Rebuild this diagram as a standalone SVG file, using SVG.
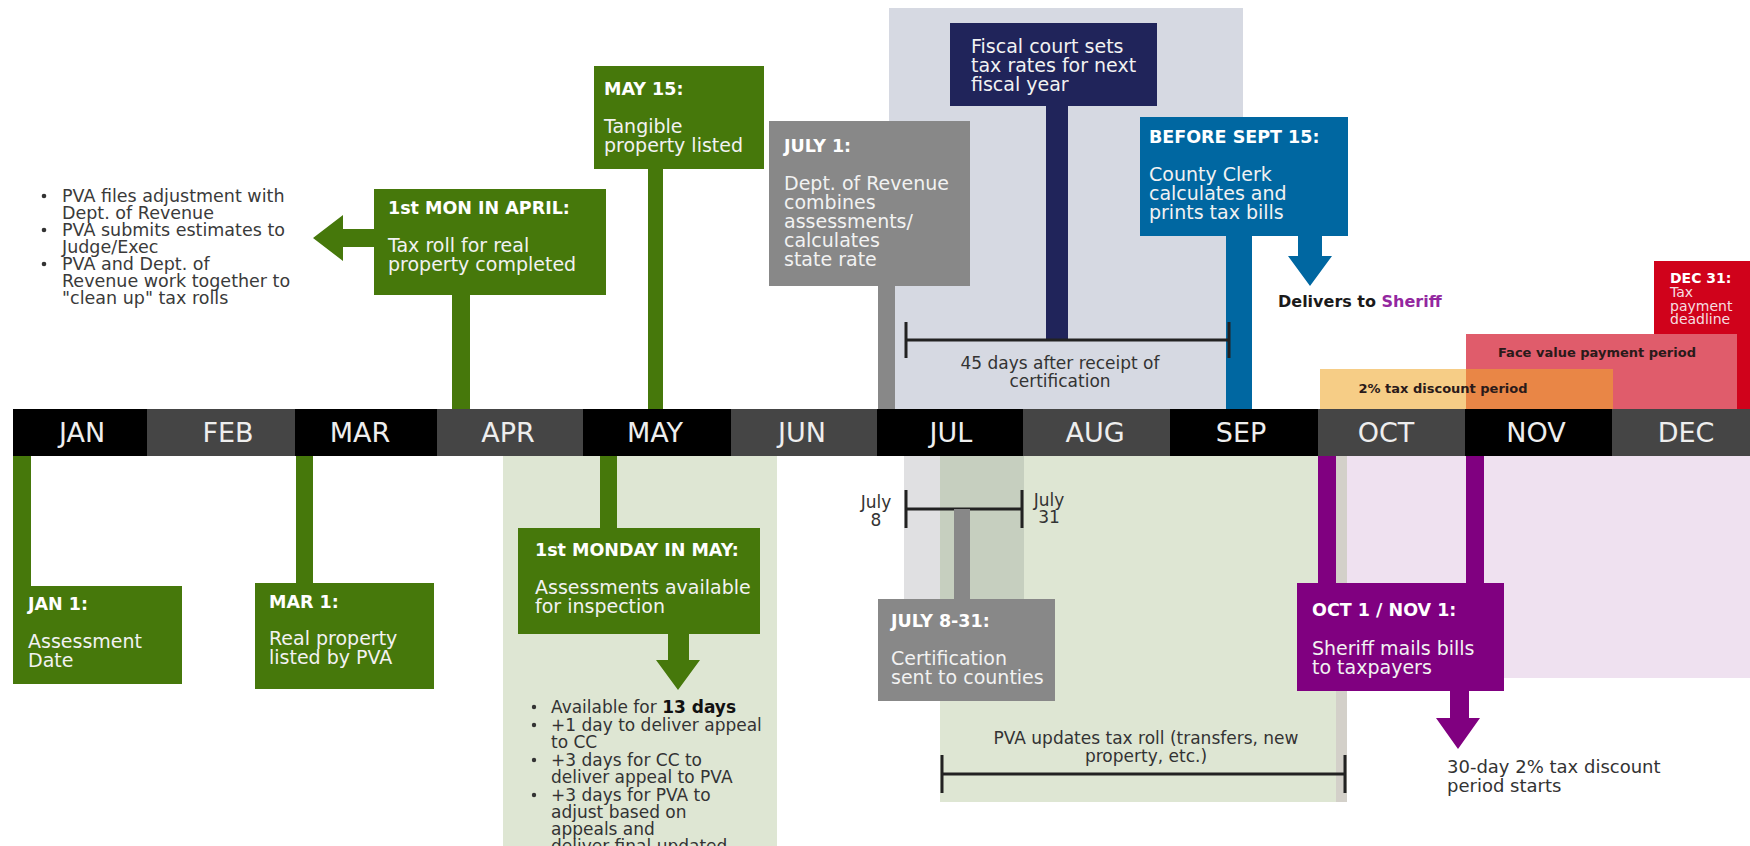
<svg xmlns="http://www.w3.org/2000/svg" width="1750" height="846" viewBox="0 0 1750 846">
<style>
text { font-family: "DejaVu Sans", "Liberation Sans", sans-serif; }
.t { font-weight: bold; font-size: 17.5px; fill: #ffffff; }
.b { font-size: 19px; fill: #f2f2f2; }
.note { font-size: 17.5px; fill: #3a3a3a; }
.note2 { font-size: 17px; fill: #333333; }
.mon { font-size: 27px; fill: #eeeeee; text-anchor: middle; }
.lbl { font-size: 17px; fill: #333333; text-anchor: middle; }
.band { font-weight: bold; font-size: 13px; fill: #2a1a1a; text-anchor: middle; }
.grn { fill: #46780b; }
.gry { fill: #888888; }
.nav { fill: #20245a; }
.blu { fill: #0067a1; }
.pur { fill: #800080; }
.red { fill: #d0021b; }
.brk { stroke: #222222; stroke-width: 3; fill: none; }
.dot { fill: #333333; }
.cb { fill: #000000; }
.cg { fill: #454545; }
</style>

<g id="backgrounds">
  <rect x="889" y="8" width="354" height="402" fill="#d6d9e2"/>
  <rect x="503" y="455" width="274" height="391" fill="#dee6d3"/>
  <rect x="1336" y="455" width="414" height="223" fill="#efe1f0"/>
  <rect x="940" y="455" width="407" height="347" fill="#dee6d3"/>
  <rect x="1336" y="455" width="11" height="347" fill="#d3d0c9"/>
  <rect x="904" y="455" width="120" height="145" fill="#e0e0e2"/>
  <rect x="940" y="455" width="84" height="145" fill="#c6cfbf"/>
</g>

<g id="dec31">
  <rect x="1654" y="261" width="96" height="149" class="red"/>
  <text x="1670" y="283" font-weight="bold" font-size="14" fill="#ffffff">DEC 31:</text>
  <text x="1670" y="297" font-size="14" fill="#f6dde0">Tax</text>
  <text x="1670" y="311" font-size="14" fill="#f6dde0">payment</text>
  <text x="1670" y="324" font-size="14" fill="#f6dde0">deadline</text>
</g>

<g id="face-value-period">
  <rect x="1466" y="334" width="271" height="76" fill="#e05c6b"/>
  <text x="1597" y="357" class="band">Face value payment period</text>
</g>

<g id="discount-period">
  <rect x="1320" y="369" width="293" height="41" fill="#efa72a" fill-opacity="0.57"/>
  <text x="1443" y="393" class="band">2% tax discount period</text>
</g>

<g id="connectors">
  <rect x="452" y="295" width="18" height="115" class="grn"/>
  <polygon points="374,229 343,229 343,215 313,238 343,261 343,247 374,247" class="grn"/>
  <rect x="648" y="169" width="15" height="241" class="grn"/>
  <rect x="878" y="286" width="17" height="124" class="gry"/>
  <rect x="1046" y="106" width="22" height="234" class="nav"/>
  <rect x="1226" y="236" width="26" height="174" class="blu"/>
  <polygon points="1298,236 1322,236 1322,256 1332,256 1310,286 1288,256 1298,256" class="blu"/>
  <path d="M906 340 H1229 M906 322 V358 M1229 322 V358" class="brk"/>
  <rect x="13" y="455" width="18" height="131" class="grn"/>
  <rect x="296" y="455" width="17" height="128" class="grn"/>
  <rect x="600" y="455" width="17" height="73" class="grn"/>
  <polygon points="668,634 689,634 689,660 700,660 678,690 656,660 668,660" class="grn"/>
  <path d="M906 509 H1022 M906 490 V528 M1022 490 V528" class="brk"/>
  <rect x="954" y="509" width="16" height="90" class="gry"/>
  <path d="M942 774 H1345 M942 755 V793 M1345 755 V793" class="brk"/>
  <rect x="1318" y="455" width="18" height="128" class="pur"/>
  <rect x="1466" y="455" width="18" height="128" class="pur"/>
  <polygon points="1450,691 1469,691 1469,718 1480,718 1458,749 1436,718 1450,718" class="pur"/>
</g>

<g id="timeline">
  <rect x="13" y="409" width="134" height="47" class="cb"/>
  <rect x="147" y="409" width="148" height="47" class="cg"/>
  <rect x="295" y="409" width="142" height="47" class="cb"/>
  <rect x="437" y="409" width="146" height="47" class="cg"/>
  <rect x="583" y="409" width="148" height="47" class="cb"/>
  <rect x="731" y="409" width="146" height="47" class="cg"/>
  <rect x="877" y="409" width="146" height="47" class="cb"/>
  <rect x="1023" y="409" width="147" height="47" class="cg"/>
  <rect x="1170" y="409" width="148" height="47" class="cb"/>
  <rect x="1318" y="409" width="147" height="47" class="cg"/>
  <rect x="1465" y="409" width="147" height="47" class="cb"/>
  <rect x="1612" y="409" width="138" height="47" class="cg"/>
  <text x="82" y="442" class="mon">JAN</text>
  <text x="228" y="442" class="mon">FEB</text>
  <text x="360" y="442" class="mon">MAR</text>
  <text x="508" y="442" class="mon">APR</text>
  <text x="655" y="442" class="mon">MAY</text>
  <text x="802" y="442" class="mon">JUN</text>
  <text x="951" y="442" class="mon">JUL</text>
  <text x="1095" y="442" class="mon">AUG</text>
  <text x="1241" y="442" class="mon">SEP</text>
  <text x="1386" y="442" class="mon">OCT</text>
  <text x="1536" y="442" class="mon">NOV</text>
  <text x="1686" y="442" class="mon">DEC</text>
</g>

<g id="april-notes">
  <circle cx="44" cy="196" r="2.3" class="dot"/>
  <circle cx="44" cy="230" r="2.3" class="dot"/>
  <circle cx="44" cy="264" r="2.3" class="dot"/>
  <text x="62" y="202" class="note">PVA files adjustment with</text>
  <text x="62" y="219" class="note">Dept. of Revenue</text>
  <text x="62" y="236" class="note">PVA submits estimates to</text>
  <text x="62" y="253" class="note">Judge/Exec</text>
  <text x="62" y="270" class="note">PVA and Dept. of</text>
  <text x="62" y="287" class="note">Revenue work together to</text>
  <text x="62" y="304" class="note">"clean up" tax rolls</text>
</g>

<g id="april-1st-monday">
  <rect x="374" y="189" width="232" height="106" class="grn"/>
  <text x="388" y="214" class="t">1st MON IN APRIL:</text>
  <text x="388" y="252" class="b">Tax roll for real</text>
  <text x="388" y="271" class="b">property completed</text>
</g>

<g id="may15">
  <rect x="594" y="66" width="170" height="103" class="grn"/>
  <text x="604" y="95" class="t">MAY 15:</text>
  <text x="604" y="133" class="b">Tangible</text>
  <text x="604" y="152" class="b">property listed</text>
</g>

<g id="july1">
  <rect x="769" y="121" width="201" height="165" class="gry"/>
  <text x="784" y="152" class="t">JULY 1:</text>
  <text x="784" y="190" class="b">Dept. of Revenue</text>
  <text x="784" y="209" class="b">combines</text>
  <text x="784" y="228" class="b">assessments/</text>
  <text x="784" y="247" class="b">calculates</text>
  <text x="784" y="266" class="b">state rate</text>
</g>

<g id="fiscal-court">
  <rect x="950" y="23" width="207" height="83" class="nav"/>
  <text x="971" y="53" class="b">Fiscal court sets</text>
  <text x="971" y="72" class="b">tax rates for next</text>
  <text x="971" y="91" class="b">fiscal year</text>
</g>

<g id="forty-five-days">
  <text x="1060" y="369" class="lbl">45 days after receipt of</text>
  <text x="1060" y="387" class="lbl">certification</text>
</g>

<g id="before-sept15">
  <rect x="1140" y="117" width="208" height="119" class="blu"/>
  <text x="1149" y="143" class="t">BEFORE SEPT 15:</text>
  <text x="1149" y="181" class="b">County Clerk</text>
  <text x="1149" y="200" class="b">calculates and</text>
  <text x="1149" y="219" class="b">prints tax bills</text>
</g>

<g id="delivers">
  <text x="1278" y="307" font-weight="bold" font-size="16" fill="#1a1a1a">Delivers to <tspan fill="#93279f">Sheriff</tspan></text>
</g>

<g id="jan1">
  <rect x="13" y="586" width="169" height="98" class="grn"/>
  <text x="28" y="610" class="t">JAN 1:</text>
  <text x="28" y="648" class="b">Assessment</text>
  <text x="28" y="667" class="b">Date</text>
</g>

<g id="mar1">
  <rect x="255" y="583" width="179" height="106" class="grn"/>
  <text x="269" y="608" class="t">MAR 1:</text>
  <text x="269" y="645" class="b">Real property</text>
  <text x="269" y="664" class="b">listed by PVA</text>
</g>

<g id="may-1st-monday">
  <rect x="518" y="528" width="242" height="106" class="grn"/>
  <text x="535" y="556" class="t">1st MONDAY IN MAY:</text>
  <text x="535" y="594" class="b">Assessments available</text>
  <text x="535" y="613" class="b">for inspection</text>
</g>

<g id="may-notes">
  <circle cx="534" cy="707" r="2.2" class="dot"/>
  <circle cx="534" cy="725" r="2.2" class="dot"/>
  <circle cx="534" cy="760" r="2.2" class="dot"/>
  <circle cx="534" cy="795" r="2.2" class="dot"/>
  <text x="551" y="713" class="note2">Available for <tspan font-weight="bold" fill="#111111">13 days</tspan></text>
  <text x="551" y="731" class="note2">+1 day to deliver appeal</text>
  <text x="551" y="748" class="note2">to CC</text>
  <text x="551" y="766" class="note2">+3 days for CC to</text>
  <text x="551" y="783" class="note2">deliver appeal to PVA</text>
  <text x="551" y="801" class="note2">+3 days for PVA to</text>
  <text x="551" y="818" class="note2">adjust based on</text>
  <text x="551" y="835" class="note2">appeals  and</text>
  <text x="551" y="852" class="note2">deliver final updated</text>
</g>

<g id="july-bracket-labels">
  <text x="876" y="508" font-size="17" fill="#333333" text-anchor="middle">July</text>
  <text x="876" y="526" font-size="17" fill="#333333" text-anchor="middle">8</text>
  <text x="1049" y="506" font-size="17" fill="#333333" text-anchor="middle">July</text>
  <text x="1049" y="523" font-size="17" fill="#333333" text-anchor="middle">31</text>
</g>

<g id="july8-31">
  <rect x="878" y="599" width="177" height="102" class="gry"/>
  <text x="891" y="627" class="t">JULY 8-31:</text>
  <text x="891" y="665" class="b">Certification</text>
  <text x="891" y="684" class="b">sent to counties</text>
</g>

<g id="pva-updates">
  <text x="1146" y="744" class="lbl">PVA updates tax roll (transfers, new</text>
  <text x="1146" y="762" class="lbl">property, etc.)</text>
</g>

<g id="oct1-nov1">
  <rect x="1297" y="583" width="207" height="108" class="pur"/>
  <text x="1312" y="616" class="t">OCT 1 / NOV 1:</text>
  <text x="1312" y="655" class="b">Sheriff mails bills</text>
  <text x="1312" y="674" class="b">to taxpayers</text>
</g>

<g id="discount-starts">
  <text x="1447" y="773" font-size="18" fill="#333333">30-day 2% tax discount</text>
  <text x="1447" y="792" font-size="18" fill="#333333">period starts</text>
</g>
</svg>
